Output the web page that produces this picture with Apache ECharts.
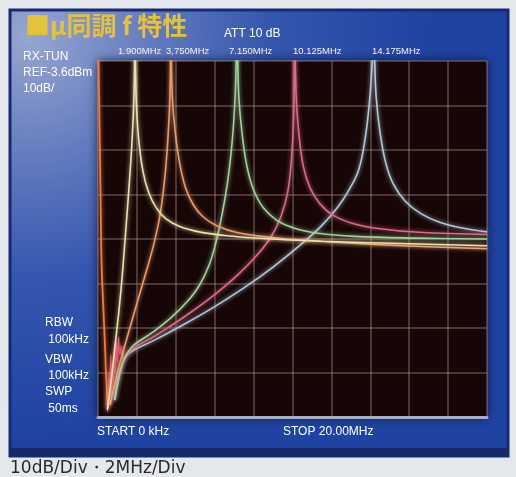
<!DOCTYPE html>
<html>
<head>
<meta charset="utf-8">
<script src="https://cdn.jsdelivr.net/npm/echarts/dist/echarts.min.js"></script>
<style>
  html, body { margin: 0; padding: 0; background: #e4e8ec; }
  #chart { width: 516px; height: 477px; }
</style>
</head>
<body>
<div id="chart"></div>
<script>
// Spectrum analyser display: 0-20 MHz span, 10 dB/div, levels in dB relative to REF.
const spanMHz = [0, 20];
const levelRangeDb = [-80, 0];
const refLevelText = 'REF-3.6dBm';

// Tuned responses, [MHz, dB re REF]
const trace1900 = [
  [0.48, -78.4], [0.68, -71.7], [0.88, -63.8], [1.08, -56.0], [1.25, -48.0],
  [1.42, -38.5], [1.60, -28.0], [1.75, -18.0], [1.85, -8.0], [1.90, 3],
  [1.96, -8.0], [2.08, -17.0], [2.30, -24.5], [2.60, -29.5], [3.00, -33.0],
  [3.50, -35.5], [4.20, -37.2], [5.20, -38.4], [6.50, -39.2], [8.50, -39.9],
  [11.5, -40.5], [15.5, -41.0], [20, -41.5]
];
const trace3750 = [
  [0.62, -77.3], [1.03, -69.4], [1.39, -63.8], [1.90, -56.0], [2.40, -48.5],
  [2.85, -41.5], [3.19, -34.6], [3.44, -26.0], [3.60, -17.0], [3.70, -8.0], [3.75, 3],
  [3.82, -8.0], [3.97, -16.0], [4.20, -23.0], [4.50, -28.5], [4.90, -32.3],
  [5.40, -35.0], [6.10, -37.0], [7.20, -38.6], [8.80, -39.6], [11.0, -40.4],
  [14.5, -41.3], [20, -42.2]
];
const trace7150 = [
  [0.84, -76.2], [1.15, -69.4], [1.70, -64.5], [2.80, -61.0], [3.80, -57.5],
  [4.60, -54.0], [5.20, -50.5], [5.70, -46.0], [6.05, -41.0], [6.40, -34.0],
  [6.70, -26.0], [6.92, -17.0], [7.05, -8.0], [7.15, 3],
  [7.24, -8.0], [7.40, -16.0], [7.65, -23.5], [8.00, -29.0], [8.50, -33.0],
  [9.20, -35.8], [10.1, -37.6], [11.3, -38.7], [13.2, -39.4], [16.5, -39.8], [20, -40.0]
];
const trace10125 = [
  [0.62, -77.3], [1.03, -70.6], [1.60, -65.5], [3.00, -61.6], [4.50, -57.3],
  [6.00, -52.5], [7.20, -48.0], [8.20, -43.5], [8.90, -39.5], [9.40, -35.0],
  [9.75, -29.5], [9.95, -22.0], [10.06, -12.0], [10.125, 3],
  [10.19, -8.0], [10.32, -16.0], [10.55, -23.5], [10.90, -28.5], [11.40, -32.0],
  [12.10, -34.7], [13.10, -36.5], [14.50, -37.7], [16.50, -38.5], [20, -39.0]
];
const trace14175 = [
  [0.87, -76.2], [1.20, -69.0], [1.50, -66.0], [3.00, -62.5], [4.50, -59.0],
  [6.00, -55.2], [7.50, -51.0], [9.00, -46.3], [10.5, -41.0], [11.5, -37.0],
  [12.3, -33.0], [12.9, -29.0], [13.4, -24.5], [13.75, -17.0], [13.98, -8.0], [14.175, 3],
  [14.30, -8.0], [14.50, -16.0], [14.80, -23.0], [15.20, -27.8], [15.80, -31.5],
  [16.60, -34.3], [17.60, -36.3], [18.80, -37.6], [20, -38.4]
];
// Local-oscillator feedthrough at 0 Hz
const traceLO = [
  [0.02, 3], [0.08, -15], [0.13, -30], [0.18, -45], [0.26, -54],
  [0.36, -64], [0.42, -71], [0.52, -78]
];
// Low-frequency noise floor
const traceNoise = [
  [0.45, -74], [0.50, -79], [0.55, -70], [0.60, -77], [0.66, -66], [0.70, -75],
  [0.76, -68], [0.80, -72], [0.86, -64], [0.90, -70], [0.95, -63], [1.00, -68],
  [1.06, -62], [1.12, -66], [1.18, -64], [1.25, -67], [1.32, -64]
];

const markerLabels = ['1.900MHz', '3,750MHz', '7.150MHz', '10.125MHz', '14.175MHz'];
const settingLines = ['RX-TUN', refLevelText, '10dB/'];
const bandwidthLines = ['RBW', ' 100kHz', 'VBW', ' 100kHz', 'SWP', ' 50ms'];
const titleText = '■μ同調 f 特性';
const attText = 'ATT 10 dB';
const startText = 'START 0 kHz';
const stopText = 'STOP 20.00MHz';
const captionText = '10dB/Div・2MHz/Div';

const chart = echarts.init(document.getElementById('chart'), null, { renderer: 'canvas' });

const labelFont = '12px "Liberation Sans", Arial, sans-serif';
function txt(x, y, text, font, fill, z) {
  return {
    type: 'text', x: x, y: y, z: z || 50, silent: true,
    style: { text: text, font: font, fill: fill, textVerticalAlign: 'middle', verticalAlign: 'middle' }
  };
}

const markerX = [118, 166, 229, 293, 372];
const graphics = [
  {
    type: 'rect', z: -20, silent: true,
    shape: { x: 10, y: 10, width: 498, height: 446 },
    style: {
      fill: new echarts.graphic.RadialGradient(0.04, 0.06, 0.9, [
        { offset: 0, color: '#97a6d0' },
        { offset: 0.3, color: '#647cbf' },
        { offset: 0.6, color: '#3456ae' },
        { offset: 1, color: '#1f43a3' }
      ]),
      stroke: '#172a72', lineWidth: 3
    }
  },
  {
    type: 'rect', z: -19, silent: true,
    shape: { x: 10, y: 448, width: 498, height: 8 },
    style: { fill: '#16296a' }
  },
  txt(25, 25, titleText, 'bold 25px "Noto Sans CJK JP", sans-serif', '#e6c238'),
  txt(224, 34, attText, labelFont, '#ffffff'),
  txt(23, 57, settingLines[0], labelFont, '#ffffff'),
  txt(23, 73, settingLines[1], labelFont, '#ffffff'),
  txt(23, 89, settingLines[2], labelFont, '#ffffff'),
  txt(45, 323, bandwidthLines[0], labelFont, '#ffffff'),
  txt(45, 340, bandwidthLines[1], labelFont, '#ffffff'),
  txt(45, 360, bandwidthLines[2], labelFont, '#ffffff'),
  txt(45, 376, bandwidthLines[3], labelFont, '#ffffff'),
  txt(45, 392, bandwidthLines[4], labelFont, '#ffffff'),
  txt(45, 409, bandwidthLines[5], labelFont, '#ffffff'),
  txt(97, 432, startText, labelFont, '#ffffff'),
  txt(283, 432, stopText, labelFont, '#ffffff'),
  txt(10, 469, captionText, '17px "DejaVu Sans", sans-serif', '#2a2a2a')
];
markerLabels.forEach(function (t, i) {
  graphics.push(txt(markerX[i], 51, t, '9.5px "Liberation Sans", Arial, sans-serif', '#f2f2f2'));
});

function trace(name, data, color, width) {
  return {
    name: name, type: 'line', data: data, symbol: 'none', clip: true,
    smooth: 0.4, z: 5,
    lineStyle: { color: color, width: width || 1.6, shadowBlur: 4, shadowColor: color },
    emphasis: { disabled: true }
  };
}

const gridLine = { lineStyle: { color: 'rgba(210,182,165,0.38)', width: 1.5 } };

chart.setOption({
  animation: false,
  backgroundColor: '#e4e8ec',
  graphic: graphics,
  grid: {
    left: 98, top: 61, width: 389, height: 356,
    show: true, backgroundColor: '#160606', borderWidth: 0,
    shadowBlur: 10, shadowColor: 'rgba(0,0,25,0.75)'
  },
  xAxis: {
    type: 'value', min: spanMHz[0], max: spanMHz[1], interval: 2,
    axisLine: { show: true, onZero: false, lineStyle: { color: '#a8adc6', width: 3 } },
    axisTick: { show: false }, axisLabel: { show: false },
    splitLine: gridLine
  },
  yAxis: {
    type: 'value', min: levelRangeDb[0], max: levelRangeDb[1], interval: 10,
    axisLine: { show: false }, axisTick: { show: false }, axisLabel: { show: false },
    splitLine: gridLine
  },
  series: [
    trace('noise', traceNoise, 'rgba(232,80,110,0.85)', 1.3),
    trace('LO', traceLO, '#f07a3c', 1.8),
    trace('14.175MHz', trace14175, '#b2c8d8'),
    trace('10.125MHz', trace10125, '#dc6a86'),
    trace('7.150MHz', trace7150, '#a2d09a'),
    trace('3.750MHz', trace3750, '#e69c6c'),
    trace('1.900MHz', trace1900, '#ece0ae')
  ]
});
</script>
</body>
</html>
